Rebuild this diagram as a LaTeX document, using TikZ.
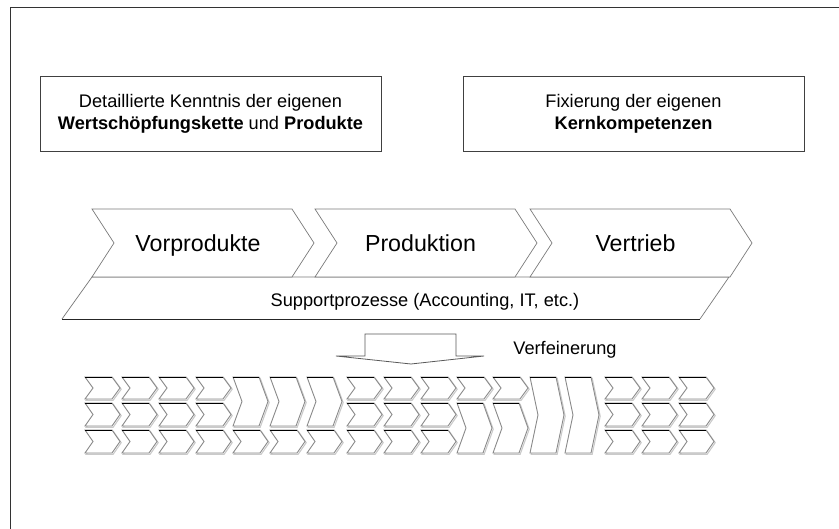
\documentclass[tikz,border=0pt]{standalone}
\usepackage{fontspec}
\setmainfont{Liberation Sans}
\definecolor{outl}{HTML}{8A8A8A}
\definecolor{shad}{HTML}{CACACA}
\definecolor{bigl}{HTML}{7A7A7A}
\newcommand{\drawchev}[6]{% style, x, ytop, ybot, width, depth
  \draw[#1] (#2,#3) -- ({#2+#5-#6},#3) -- ({#2+#5},{(#3+#4)/2}) -- ({#2+#5-#6},#4) -- (#2,#4) -- ({#2+#6},{(#3+#4)/2}) -- cycle;}
\newcommand{\smchev}[5]{% x, ytop, ybot, width, depth
  \begin{scope}[shift={(1.2,1.2)}]\drawchev{chshadow}{#1}{#2}{#3}{#4}{#5}\end{scope}
  \drawchev{chmain}{#1}{#2}{#3}{#4}{#5}
  \draw[chtop] (#1,#2) -- ({#1+#4-#5},#2);}
\tikzset{
  chshadow/.style={draw=shad, line width=1.1bp},
  chmain/.style={draw=outl, fill=white, line width=0.9bp},
  chtop/.style={draw=black, line width=0.9bp},
  bigchev/.style={draw=bigl, fill=white, line width=0.7bp},
  infobox/.style={draw=black!75, line width=0.8bp, minimum width=341bp, minimum height=75bp, align=center, inner sep=0pt,
    font=\fontsize{18.2bp}{22bp}\selectfont},
  label18/.style={font=\fontsize{18.2bp}{22bp}\selectfont, inner sep=0pt, anchor=base},
  label23/.style={font=\fontsize{23.2bp}{28bp}\selectfont, inner sep=0pt, anchor=base},
}
\begin{document}
\begin{tikzpicture}[x=1bp,y=-1bp]
\useasboundingbox (0,0) rectangle (839,529);
% frame
\coordinate (fbl) at (10,529);
\coordinate (ftl) at (10,8);
\coordinate (ftr) at (839,8);
\draw[black!80, line width=1bp] (fbl) -- (ftl) -- (ftr);
% top boxes
\node[infobox] (b1) at (210.5,113.5) {Detaillierte Kenntnis der eigenen\\\textbf{Wertschöpfungskette} und \textbf{Produkte}};
\node[infobox] (b2) at (633.5,113.5) {Fixierung der eigenen\\\textbf{Kernkompetenzen}};
% support parallelogram
\draw[draw=bigl, fill=white, line width=0.7bp] (62,319) -- (92,277) -- (729,277) -- (700,319);
\draw[black!85, line width=0.9bp] (62,319) -- (700,319);
% big chevrons
\drawchev{bigchev}{92}{209}{277}{222}{22}
\drawchev{bigchev}{315}{209}{277}{222}{22}
\drawchev{bigchev}{530}{209}{277}{222}{22}
\node[label23] (c1) at (198,251.5) {Vorprodukte};
\node[label23] (c2) at (420.5,251.5) {Produktion};
\node[label23] (c3) at (635.5,251.5) {Vertrieb};
\node[label18] (sp) at (425,306.5) {Supportprozesse (Accounting, IT, etc.)};
% refinement arrow
\draw[draw=black!65, fill=white, line width=0.8bp] (365,334) -- (456,334) -- (456,356) -- (484,356) -- (411,364) -- (336,356) -- (365,356) -- cycle;
\node[label18] (vf) at (565,354.5) {Verfeinerung};
% small chevron grid
\def\rAt{377}\def\rAb{399}
\def\rBt{403}\def\rBb{426}
\def\rCt{430}\def\rCb{453}
\foreach \cx in {85,122,159,196,347,384,421,605,642,679}{
  \smchev{\cx}{\rAt}{\rAb}{35}{8}
  \smchev{\cx}{\rBt}{\rBb}{35}{8}
  \smchev{\cx}{\rCt}{\rCb}{35}{8}
}
\foreach \cx in {233,270,307}{
  \smchev{\cx}{\rAt}{\rBb}{35}{9}
  \smchev{\cx}{\rCt}{\rCb}{35}{8}
}
\foreach \cx in {457,493}{
  \smchev{\cx}{\rAt}{\rAb}{35}{8}
  \smchev{\cx}{\rBt}{\rCb}{35}{9}
}
\foreach \cx in {530,565}{
  \smchev{\cx}{\rAt}{\rCb}{34}{8}
}
\end{tikzpicture}
\end{document}
